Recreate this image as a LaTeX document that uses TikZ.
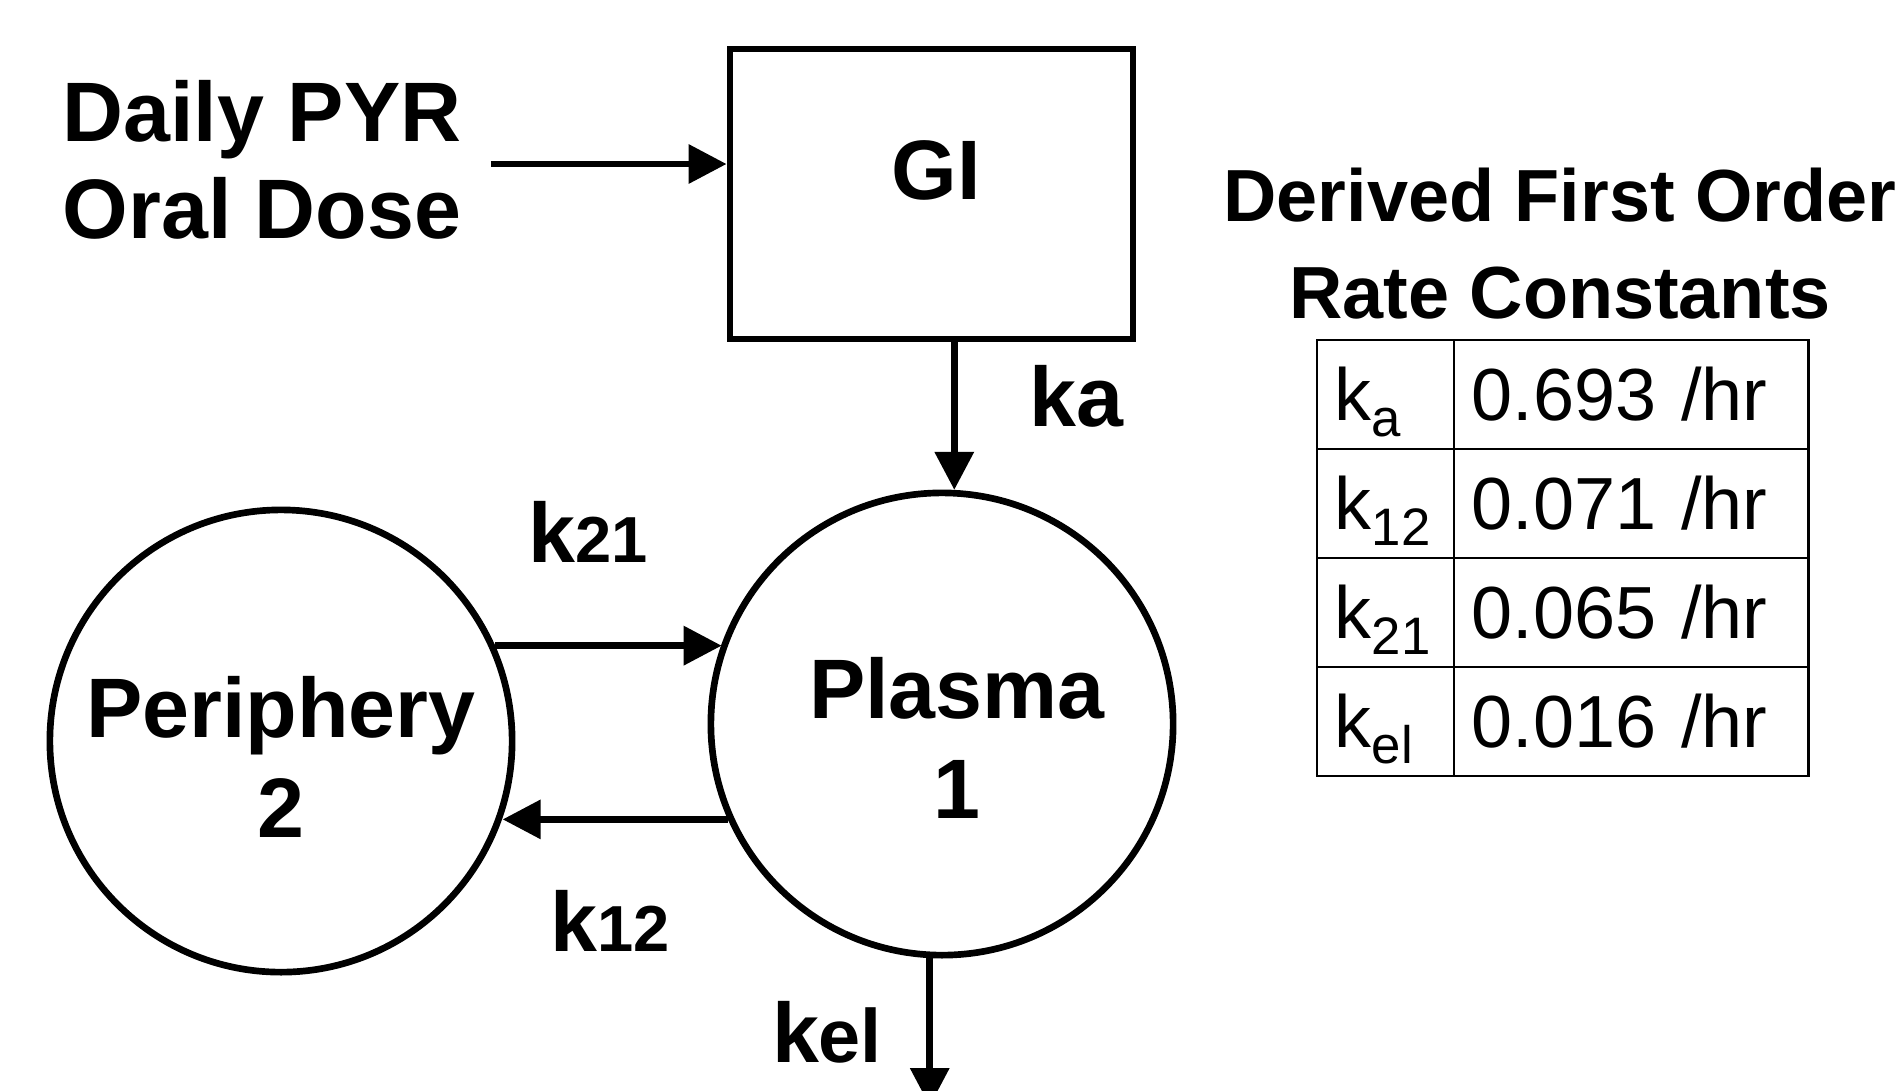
\documentclass[tikz,border=0pt]{standalone}
\usepackage{fontspec}
\setmainfont{Liberation Sans}
\usetikzlibrary{arrows.meta}

\newcommand{\bigsize}{\fontsize{24}{28.5}\selectfont}
\newcommand{\kbold}[1]{k{\fontsize{18.5}{20}\selectfont #1}}
\newcommand{\ksub}[1]{k\raisebox{-0.16cm}{\fontsize{15}{15}\selectfont #1}}

\tikzset{
    compartment/.style = {draw, circle, line width=1.9pt, minimum size=4.62cm, inner sep=0pt},
    flow/.style = {line width=1.9pt, -{Triangle[length=0.38cm, width=0.38cm]}},
    bigtext/.style = {font=\bfseries\bigsize, align=center},
    cell/.style = {draw, line width=0.8pt, minimum height=1.09cm, inner xsep=0.18cm,
                   text height=0.52cm, text depth=0pt, align=left, font=\fontsize{21}{24}\selectfont}
}

\begin{document}
\begin{tikzpicture}[x=0.01cm, y=-0.01cm]
            \useasboundingbox (0,0) rectangle (1904,1090);

            % compartments
            \node[draw, line width=1.9pt, minimum width=4.03cm, minimum height=2.90cm] (gi) at (931.5,194) {};
            \node[compartment] (plasma) at (942,724) {};
            \node[compartment] (periphery) at (281,741) {};

            \node[bigtext] (giname) at (936,170) {GI};
            \node[bigtext] (plasmaname) at (957,738) {Plasma\\1};
            \node[bigtext] (peripheryname) at (281,757) {Periphery\\2};
            \node[bigtext, font=\bfseries\fontsize{24}{27.6}\selectfont] (dose) at (262,160) {Daily PYR\\Oral Dose};

            % transfers
            \coordinate (drain) at (932,1106);
            \draw[flow, shorten <=0.17cm] ([yshift=-0.04cm]dose.east) -- ([yshift=-0.04cm]gi.west |- dose.east);
            \draw[flow] (gi.south -| plasma.87) -- (plasma.87);
            \draw[flow] (periphery.24.3) -- (periphery.24.3 -| plasma.160.3);
            \draw[flow] (plasma.204.3) -- (plasma.204.3 -| periphery.-19.7);
            \draw[flow] (plasma.267.5) -- (plasma.267.5 |- drain);

            \node[bigtext] (ka) at (1076,396) {ka};
            \node[bigtext] (k21) at (588,532) {\kbold{21}};
            \node[bigtext] (k12) at (610,921) {\kbold{12}};
            \node[bigtext] (kel) at (827,1032) {k{\fontsize{21.5}{22}\selectfont el}};

            % rate table
            \node[font=\bfseries\fontsize{21}{27.6}\selectfont, align=center] (title) at (1560,244)
                {Derived First Order\\Rate Constants};
            \foreach \sym/\val [count=\i] in {\ksub{a}/0.693, \ksub{12}/0.071, \ksub{21}/0.065, \ksub{el}/0.016} {
                \node[cell, text width=1.01cm] (sym\i) at (1385.5,285.5+109*\i) {\sym};
                \node[cell, text width=3.18cm] (val\i) at (1631,285.5+109*\i) {\val\ /hr};
            }
        \end{tikzpicture}
\end{document}
